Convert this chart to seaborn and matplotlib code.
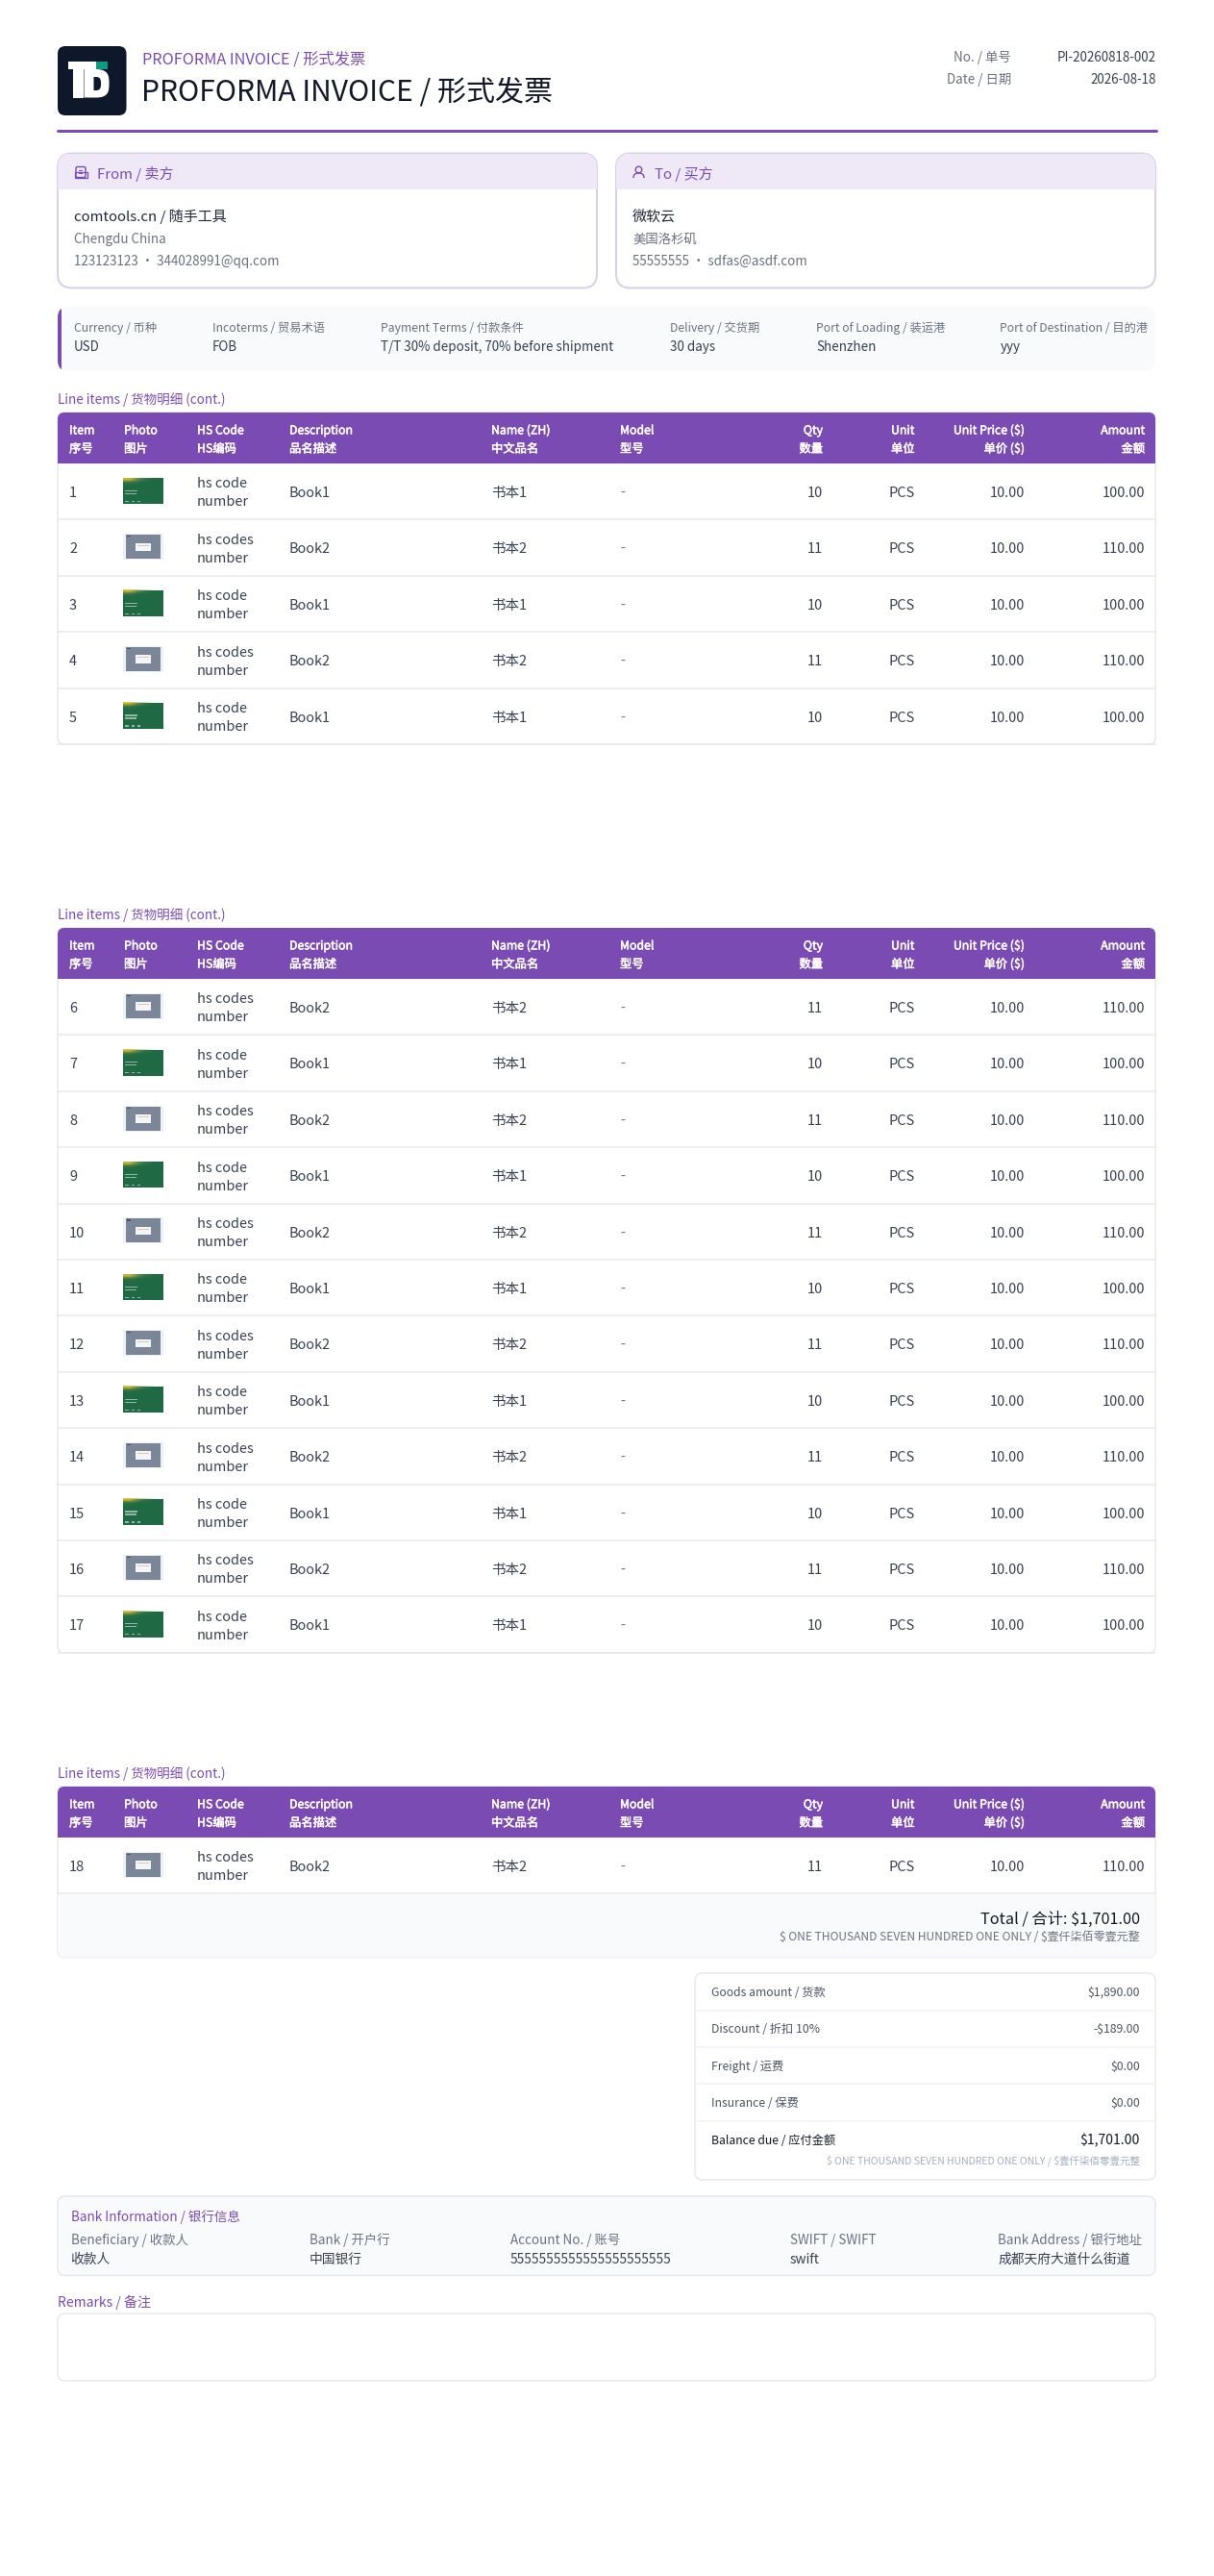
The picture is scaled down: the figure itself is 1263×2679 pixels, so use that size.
import matplotlib
matplotlib.use("Agg")
import matplotlib.pyplot as plt
import matplotlib.patheffects as pe
import pandas as pd
import seaborn as sns
from matplotlib.patches import Circle, FancyBboxPatch, PathPatch, Rectangle
from matplotlib.path import Path

# table content
items = list(range(1, 19))
photos = ["green", "grey"] * 9
hs_codes = ["hs code", "hs codes"] * 9
descriptions = ["Book1", "Book2"] * 9
names_zh = ["书本1", "书本2"] * 9
models = ["-"] * 18
quantities = [10, 11] * 9
units = ["PCS"] * 18
prices = ["10.00"] * 18
amounts = ["100.00", "110.00"] * 9

header_en = ["Item", "Photo", "HS Code", "Description", "Name (ZH)", "Model",
             "Qty", "Unit", "Unit Price ($)", "Amount"]
header_zh = ["序号", "图片", "HS编码", "品名描述", "中文品名", "型号",
             "数量", "单位", "单价 ($)", "金额"]

# terms strip
term_labels = ["Currency / 币种", "Incoterms / 贸易术语", "Payment Terms / 付款条件",
               "Delivery / 交货期", "Port of Loading / 装运港", "Port of Destination / 目的港"]
term_values = ["USD", "FOB", "T/T 30% deposit, 70% before shipment",
               "30 days", "Shenzhen", "yyy"]

# totals
summary_labels = ["Goods amount / 货款", "Discount / 折扣 10%", "Freight / 运费", "Insurance / 保费"]
summary_values = ["$1,890.00", "-$189.00", "$0.00", "$0.00"]
words = "$ ONE THOUSAND SEVEN HUNDRED ONE ONLY / $壹仟柒佰零壹元整"

bank_labels = ["Beneficiary / 收款人", "Bank / 开户行", "Account No. / 账号",
               "SWIFT / SWIFT", "Bank Address / 银行地址"]
bank_values = ["收款人", "中国银行", "5555555555555555555555", "swift", "成都天府大道什么街道"]

PURPLE = "#7a4cb3"
TINT = "#efe8f6"
CARD = "#d9d0e6"
INK = "#111827"
BODY = "#374151"
GREY = "#6b7280"
LINE = "#e5e9ef"
PALE = "#f8fafc"
L, R = 60, 1202

sns.set_theme(style="white")
plt.rcParams["font.family"] = ["Noto Sans CJK SC", "DejaVu Sans"]

fig = plt.figure(figsize=(12.63, 26.79), dpi=100)
ax = fig.add_axes([0, 0, 1, 1])


def txt(x, y, s, px, color=BODY, ha="left", heavy=False):
    # y is the middle of the digits, so lines sit the same whatever the glyphs
    t = ax.text(x, y + px * 0.36, s, fontsize=px * 0.72, color=color, ha=ha,
                va="baseline", parse_math=False)
    if heavy:
        # no medium weight installed, thicken the regular one a little
        t.set_path_effects([pe.withStroke(linewidth=0.35, foreground=color)])


def box(x0, y0, x1, y1, r, fc="white", ec=LINE, lw=1.5, z=1):
    p = FancyBboxPatch((x0, y0), x1 - x0, y1 - y0, boxstyle=f"round,pad=0,rounding_size={r}",
                       fc=fc, ec=ec, lw=lw * 0.72, zorder=z)
    ax.add_patch(p)
    return p


def rules(y_values, x0, x1, color=LINE, width=1.5):
    df = pd.DataFrame({
        "x": [x0, x1] * len(y_values),
        "y": [y for y in y_values for _ in range(2)],
        "rule": [i for i in range(len(y_values)) for _ in range(2)],
    })
    sns.lineplot(data=df, x="x", y="y", units="rule", estimator=None, color=color,
                 linewidth=width * 0.72, legend=False, ax=ax, zorder=3, sort=False)


def thumb(kind, yc):
    y0 = yc - 15
    if kind == "green":
        ax.add_patch(Rectangle((128, y0 + 0.5), 42, 27, fc="#1f6a45", lw=0, zorder=4))
        # yellow glow fading out from the top left corner
        glow = [[(0.85, 0.75, 0.2, 0.9), (0.5, 0.6, 0.3, 0.35), (0.2, 0.45, 0.3, 0)],
                [(0.4, 0.5, 0.25, 0.25), (0.2, 0.45, 0.3, 0), (0.2, 0.45, 0.3, 0)],
                [(0.2, 0.45, 0.3, 0), (0.2, 0.45, 0.3, 0), (0.2, 0.45, 0.3, 0)]]
        ax.imshow(glow, extent=(128, 170, y0 + 11, y0 + 0.5), interpolation="bilinear",
                  aspect="auto", zorder=5)
        for dx, dy, w in [(2, 13, 13), (2, 16, 12), (2, 24, 4), (9, 24, 3), (15, 24, 3)]:
            ax.add_patch(Rectangle((128 + dx, y0 + dy), w, 1.3, fc="#dcebe2", alpha=0.6, lw=0, zorder=6))
    else:
        ax.add_patch(Rectangle((128, y0), 42, 27, fc="#eef2f4", lw=0, zorder=4))
        ax.add_patch(Rectangle((131, y0 + 1), 36, 25, fc="#7b8698", lw=0, zorder=4))
        ax.add_patch(Rectangle((141, y0 + 9.5), 16, 8.5, fc="#f4f5f7", lw=0, zorder=5))
        ax.add_patch(Rectangle((143, y0 + 11.5), 12, 1, fc="#dcc4b8", lw=0, zorder=6))
        ax.add_patch(Rectangle((132, y0 + 2), 4, 1.2, fc="#39414f", alpha=0.7, lw=0, zorder=5))


COL_LEFT = [72, 129, 205, 301, 511, 645]
COL_RIGHT = [856, 951.5, 1066, 1191]
ROW_H = 58.4


def table(top, first, last, footer=None):
    head_bottom = top + 53
    bottom = head_bottom + ROW_H * (last - first + 1)
    end = footer if footer else bottom
    shell = box(L, top, R, end, 7, ec=LINE, lw=1.5)
    if footer:
        foot = Rectangle((L, bottom), R - L, footer - bottom, fc=PALE, lw=0, zorder=2)
        ax.add_patch(foot)
        foot.set_clip_path(shell)
    band = Rectangle((L, top), R - L, 53, fc=PURPLE, lw=0, zorder=2)
    ax.add_patch(band)
    band.set_clip_path(shell)
    txt(L, top - 13.5, "Line items / 货物明细 (cont.)", 13.5, PURPLE)

    for col, en, zh in zip(COL_LEFT, header_en[:6], header_zh[:6]):
        txt(col, top + 18, en, 12.3, "white", heavy=True)
        txt(col, top + 37, zh, 12.3, "white", heavy=True)
    for col, en, zh in zip(COL_RIGHT, header_en[6:], header_zh[6:]):
        txt(col, top + 18, en, 12.3, "white", ha="right", heavy=True)
        txt(col, top + 37, zh, 12.3, "white", ha="right", heavy=True)

    seps = []
    for n, i in enumerate(range(first - 1, last)):
        yc = head_bottom + ROW_H * n + 29.7
        seps.append(head_bottom + ROW_H * (n + 1))
        txt(COL_LEFT[0], yc, str(items[i]), 14.5)
        thumb(photos[i], yc)
        txt(COL_LEFT[2], yc - 9.5, hs_codes[i], 14.5)
        txt(COL_LEFT[2], yc + 9.5, "number", 14.5)
        txt(COL_LEFT[3], yc, descriptions[i], 14.5)
        txt(COL_LEFT[4], yc, names_zh[i], 14.5)
        txt(COL_LEFT[5], yc, models[i], 14.5, GREY)
        txt(COL_RIGHT[0], yc, str(quantities[i]), 14.5, ha="right")
        txt(COL_RIGHT[1], yc, units[i], 14.5, ha="right")
        txt(COL_RIGHT[2], yc, prices[i], 14.5, ha="right")
        txt(COL_RIGHT[3], yc, amounts[i], 14.5, ha="right")
    rules(seps, L, R)


# heading
box(60, 48, 131.5, 120, 8, fc="#0f172a", ec="none", lw=0)
ax.add_patch(Rectangle((71, 63.5), 29, 8.5, fc="white", lw=0, zorder=3))
ax.add_patch(Rectangle((100, 63.5), 12.3, 8.5, fc="#0f9a85", lw=0, zorder=3))
ax.add_patch(Rectangle((75.7, 72), 11, 29.5, fc="white", lw=0, zorder=3))
d_outer = [(87.5, 72), (100, 72), (113.5, 72), (113.5, 80), (113.5, 86.7),
           (113.5, 94), (113.5, 101.5), (100, 101.5), (87.5, 101.5), (87.5, 72)]
d_outer_codes = [Path.MOVETO, Path.LINETO] + [Path.CURVE4] * 6 + [Path.LINETO, Path.CLOSEPOLY]
d_inner = [(97.5, 80), (97.5, 94), (100, 94), (105, 94), (105, 90), (105, 87),
           (105, 84), (105, 80), (100, 80), (97.5, 80)]
d_inner_codes = [Path.MOVETO, Path.LINETO, Path.LINETO] + [Path.CURVE4] * 6 + [Path.CLOSEPOLY]
ax.add_patch(PathPatch(Path(d_outer + d_inner, d_outer_codes + d_inner_codes), fc="white", lw=0, zorder=3))

txt(147.5, 61, "PROFORMA INVOICE / 形式发票", 16.3, PURPLE)
txt(147, 94, "PROFORMA INVOICE / 形式发票", 30, INK)
txt(1052, 59, "No. / 单号", 13.4, GREY, ha="right")
txt(1052, 82, "Date / 日期", 13.4, GREY, ha="right")
txt(1203, 59, "PI-20260818-002", 13.4, BODY, ha="right")
txt(1203, 82, "2026-08-18", 13.4, BODY, ha="right")
rules([136], L, 1203, color=PURPLE, width=3)


def party(x0, x1, title, tx, name, place, contact):
    shell = box(x0, 159.5, x1, 299.5, 15, ec=CARD, lw=2)
    head = Rectangle((x0, 159.5), x1 - x0, 37.5, fc=TINT, lw=0, zorder=2)
    ax.add_patch(head)
    head.set_clip_path(shell)
    txt(tx, 181, title, 15, PURPLE)
    txt(x0 + 17, 224.5, name, 15, "#1f2937")
    txt(x0 + 17, 248, place, 13.4, GREY)
    txt(x0 + 17, 271, contact, 13.4, GREY)


party(60, 621, "From / 卖方", 101, "comtools.cn / 随手工具", "Chengdu China", "123123123 ・ 344028991@qq.com")
party(641, 1202, "To / 买方", 681, "微软云", "美国洛杉矶", "55555555 ・ sdfas@asdf.com")

# small card icons
box(79, 173.5, 89, 184.5, 1.5, fc="none", ec=PURPLE, lw=1.4, z=4)
ax.add_patch(Rectangle((77.5, 179), 13, 5.5, fc="none", ec=PURPLE, lw=0.9, zorder=4))
ax.add_patch(Rectangle((82, 176.5), 4, 1.4, fc=PURPLE, lw=0, zorder=4))
ax.add_patch(Rectangle((82, 180), 4, 1.4, fc=PURPLE, lw=0, zorder=4))
ax.add_patch(Circle((664.5, 176.5), 3.3, fc="none", ec=PURPLE, lw=1.0, zorder=4))
arc = [(659, 185), (659, 181.5), (661, 180), (664.5, 180), (668, 180), (670, 181.5), (670, 185)]
ax.add_patch(PathPatch(Path(arc, [Path.MOVETO] + [Path.CURVE4] * 6), fc="none", ec=PURPLE, lw=1.0, zorder=4))

# terms strip
strip = box(60, 319, 1202, 386, 11, fc=PALE, ec="none", lw=0)
accent = Rectangle((60, 319), 4, 67, fc=PURPLE, lw=0, zorder=2)
ax.add_patch(accent)
accent.set_clip_path(strip)
for x, lab, val in zip([77, 221, 395.5, 697, 849, 1040.5], term_labels, term_values):
    txt(x, 341, lab, 12.2, GREY)
    txt(x, 360, val, 13.4, BODY)

table(429, 1, 5)
table(965, 6, 17)
table(1858, 18, 18, footer=2035.5)

txt(1186, 1995, "Total / 合计: $1,701.00", 16.3, INK, ha="right")
txt(1186, 2013.5, words, 12, GREY, ha="right")

# summary box
box(723, 2052, 1202, 2267, 8)
rules([2091, 2129.3, 2167.3, 2205.7], 723.5, 1201.5, color="#eef1f5")
for y, lab, val in zip([2071.3, 2109.7, 2148.3, 2186.3], summary_labels, summary_values):
    txt(739.5, y, lab, 12.2, "#4b5563")
    txt(1186, y, val, 12.2, "#4b5563", ha="right")
txt(739.5, 2225.7, "Balance due / 应付金额", 12.2, INK)
txt(1186, 2225.7, "$1,701.00", 14, INK, ha="right")
txt(1186, 2246.7, words, 10.5, "#a3aebd", ha="right")

# bank block
box(60, 2284, 1202, 2366.5, 8, fc=PALE)
txt(73.5, 2305, "Bank Information / 银行信息", 13.5, PURPLE)
for x, lab, val in zip([73.5, 322, 531, 822, 1038.5], bank_labels, bank_values):
    txt(x, 2329, lab, 13.4, GREY)
    txt(x, 2348.7, val, 13.8, BODY)

txt(60, 2394, "Remarks / 备注", 14, PURPLE)
box(60, 2406, 1202, 2476, 8)

ax.set_xlim(0, 1263)
ax.set_ylim(2679, 0)
ax.set_xlabel("")
ax.set_ylabel("")
ax.axis("off")
fig.savefig("out.png", dpi=100, facecolor="white")
